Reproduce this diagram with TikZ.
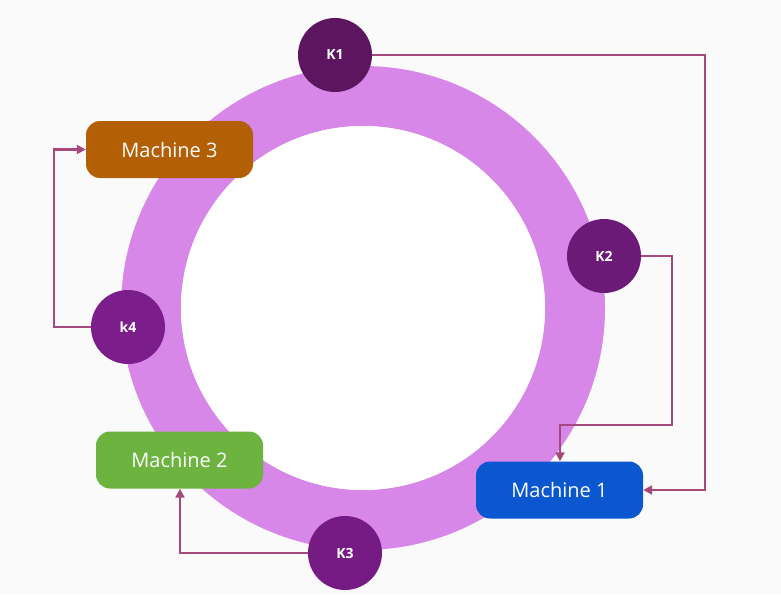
\documentclass[tikz,border=0pt]{standalone}
\usepackage{fontspec}
\setmainfont{Open Sans}
\usetikzlibrary{arrows.meta,positioning}
\definecolor{bgc}{HTML}{FAFAFA}
\definecolor{ringc}{HTML}{D787E8}
\definecolor{linkc}{HTML}{A5487C}
\tikzset{>={Triangle[width=9pt,length=9pt]}, line/.style={linkc, line width=2.2pt},
key/.style={circle, draw=none, minimum size=74pt, text=white, font=\fontsize{14}{16}\selectfont\bfseries},
mach/.style={rounded corners=14pt, minimum width=167pt, minimum height=57pt, text=white, font=\fontsize{20}{24}\selectfont}}

\begin{document}
\begin{tikzpicture}[x=1pt,y=-1pt]
\fill[bgc] (0,0) rectangle (781,594);
\useasboundingbox (0,0) rectangle (781,594);

% ring
\fill[ringc, even odd rule] (363,308) circle (242) (363,308) circle (182);
\fill[white] (363,308) circle (182);

\node[mach, fill={rgb,255:red,179;green,95;blue,6}] (m3) at (169.5,149.5) {Machine 3};
\node[mach, fill={rgb,255:red,109;green,179;blue,63}] (m2) at (179.5,460) {Machine 2};
\node[mach, fill={rgb,255:red,11;green,87;blue,208}] (m1) at (559.5,490) {Machine 1};

\node[key, fill={rgb,255:red,92;green,22;blue,96}] (k1) at (335,55) {K1};
\node[key, fill={rgb,255:red,107;green,26;blue,120}] (k2) at (604,256) {K2};
\node[key, fill={rgb,255:red,118;green,27;blue,132}] (k3) at (345,553) {K3};
\node[key, fill={rgb,255:red,123;green,29;blue,138}] (k4) at (128,327) {k4};

\draw[->,line] (k1.east) -- ++(333,0) |- (m1.east);
\draw[->,line] (k2.east) -- ++(31,0) |- (560,425) -- (m1.north -| 560,0);
\draw[->,line] (k3.west) -| (m2.south -| 180,0);
\draw[->,line] (k4.west) -- ++(-37,0) |- (m3.west);
\end{tikzpicture}
\end{document}
